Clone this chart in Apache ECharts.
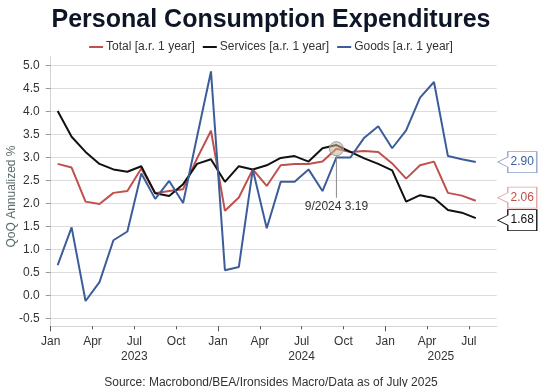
<!DOCTYPE html>
<html><head><meta charset="utf-8">
<script src="https://cdn.jsdelivr.net/npm/echarts@6/dist/echarts.min.js"></script>
<style>html,body{margin:0;padding:0;background:#fff}#c{width:542px;height:387px}</style>
</head><body><div id="c"></div>
<script>
// ---- data ----
const months = ['1/2023','2/2023','3/2023','4/2023','5/2023','6/2023','7/2023','8/2023','9/2023','10/2023','11/2023','12/2023',
                '1/2024','2/2024','3/2024','4/2024','5/2024','6/2024','7/2024','8/2024','9/2024','10/2024','11/2024','12/2024',
                '1/2025','2/2025','3/2025','4/2025','5/2025','6/2025','7/2025'];
const total    = [2.86,2.78,2.04,1.99,2.23,2.27,2.76,2.22,2.27,2.31,2.98,3.58,
                  1.84,2.13,2.74,2.38,2.83,2.86,2.86,2.91,3.19,3.12,3.14,3.12,
                  2.87,2.54,2.83,2.91,2.23,2.17,2.06];
const services = [4.01,3.45,3.12,2.86,2.74,2.69,2.81,2.22,2.16,2.42,2.86,2.96,
                  2.47,2.81,2.74,2.83,2.99,3.03,2.91,3.20,3.27,3.12,2.98,2.86,
                  2.72,2.04,2.18,2.12,1.86,1.80,1.68];
const goods    = [0.66,1.48,-0.12,0.29,1.20,1.39,2.65,2.10,2.49,2.01,3.45,4.87,
                  0.55,0.62,2.74,1.46,2.47,2.47,2.74,2.27,3.00,3.00,3.43,3.68,
                  3.20,3.59,4.30,4.64,3.03,2.96,2.90];
const seriesNames = ['Total [a.r. 1 year]','Services [a.r. 1 year]','Goods [a.r. 1 year]'];
const yTicks = [-0.5,0,0.5,1,1.5,2,2.5,3,3.5,4,4.5,5];
const xTickMonths = [0,3,6,9,12,15,18,21,24,27,30];
const xTickLabels = ['Jan','Apr','Jul','Oct','Jan','Apr','Jul','Oct','Jan','Apr','Jul'];
const yearTickMonths = [0,12,24];
const yearLabelMonths = [6,18,28];
const yearLabels = ['2023','2024','2025'];
const annotIndex = 20;
const titleText = 'Personal Consumption Expenditures';
const sourceText = 'Source: Macrobond/BEA/Ironsides Macro/Data as of July 2025';

// ---- chart ----
const FONT = "'Liberation Sans', Arial, sans-serif";
const colors = ['#c0504d', '#111111', '#3c5d9a'];
const boxBorders = ['#e2a3a1', '#111111', '#8fa3c8'];
const labelDy = [-3, 2, 0];
const toXY = arr => arr.map((v, i) => [i + 0.5, v]);
const last = months.length - 1;
const calloutPath = 'path://M0,10.5 L10,5.5 L10,0 L39,0 L39,21 L10,21 L10,15.5 Z';

function callout(arr, idx) {
  return {
    coord: [last + 0.5, arr[last]],
    symbol: calloutPath,
    symbolSize: [39, 21],
    symbolKeepAspect: false,
    symbolOffset: [41.5, labelDy[idx]],
    itemStyle: { color: '#fff', borderColor: boxBorders[idx], borderWidth: 1 },
    label: {
      show: true, position: 'inside', offset: [5, 0],
      formatter: arr[last].toFixed(2),
      color: colors[idx], fontSize: 12, fontFamily: FONT
    }
  };
}

const dataSets = [total, services, goods];
const series = dataSets.map((arr, idx) => {
  const mp = [callout(arr, idx)];
  if (idx === 0) {
    mp.push({
      coord: [annotIndex + 0.5, arr[annotIndex]],
      symbol: 'rect', symbolSize: [1, 42], symbolOffset: [0, 28],
      itemStyle: { color: '#8a8a8a' },
      label: { show: true, position: 'bottom', distance: 3,
               formatter: months[annotIndex] + ' ' + arr[annotIndex].toFixed(2),
               color: '#333', fontSize: 12, fontFamily: FONT }
    });
    mp.push({
      coord: [annotIndex + 0.5, arr[annotIndex]],
      symbol: 'circle', symbolSize: 14,
      itemStyle: { color: 'rgba(200,180,150,0.55)', borderColor: '#9a9a9a', borderWidth: 1 },
      label: { show: false }
    });
  }
  return {
    name: seriesNames[idx], type: 'line', data: toXY(arr),
    xAxisIndex: 0, yAxisIndex: 0,
    showSymbol: false, symbol: 'none',
    lineStyle: { color: colors[idx], width: 2 },
    itemStyle: { color: colors[idx] },
    markPoint: { data: mp, animation: false, silent: true }
  };
});

const chart = echarts.init(document.getElementById('c'), null, { renderer: 'canvas' });
chart.setOption({
  animation: false,
  backgroundColor: '#fff',
  textStyle: { fontFamily: FONT },
  title: [
    { text: titleText, left: 'center', top: 3,
      textStyle: { fontFamily: FONT, fontSize: 25, fontWeight: 'bold', color: '#0d1526' } },
    { text: sourceText, left: 'center', top: 372,
      textStyle: { fontFamily: FONT, fontSize: 12, fontWeight: 'normal', color: '#333' } }
  ],
  legend: {
    data: seriesNames, top: 36, left: 'center', icon: 'rect',
    itemWidth: 14, itemHeight: 2, itemGap: 8,
    textStyle: { fontFamily: FONT, fontSize: 12, color: '#333', padding: [0, 0, 0, -2] }
  },
  grid: { left: 50.7, right: 45.3, top: 56.7, bottom: 60.7, containLabel: false, outerBoundsMode: 'none' },
  xAxis: [
    { type: 'value', min: 0, max: 32, position: 'bottom',
      axisLine: { show: true, onZero: false, lineStyle: { color: '#d4d4d4' } },
      axisTick: { show: true, customValues: xTickMonths, length: 3, lineStyle: { color: '#555' } },
      axisLabel: { customValues: xTickMonths, margin: 9, color: '#333', fontSize: 12, fontFamily: FONT,
                   formatter: v => xTickLabels[xTickMonths.indexOf(v)] },
      splitLine: { show: false } },
    { type: 'value', min: 0, max: 32, position: 'bottom',
      axisLine: { show: false, onZero: false },
      axisTick: { show: true, customValues: yearTickMonths, length: 5, lineStyle: { color: '#555' } },
      axisLabel: { customValues: yearLabelMonths, margin: 24, color: '#333', fontSize: 12, fontFamily: FONT,
                   formatter: v => yearLabels[yearLabelMonths.indexOf(v)] },
      splitLine: { show: false } }
  ],
  yAxis: {
    type: 'value', min: -0.67, max: 5.19,
    name: 'QoQ Annualized %', nameLocation: 'middle', nameGap: 33, nameMoveOverlap: false,
    nameTextStyle: { color: '#5b6b6b', fontSize: 12, fontFamily: FONT, padding: [0, 10, 0, 0] },
    axisLine: { show: true, onZero: false, lineStyle: { color: '#d4d4d4' } },
    axisTick: { show: true, customValues: yTicks, length: 5, lineStyle: { color: '#999' } },
    axisLabel: { customValues: yTicks, margin: 11, color: '#333', fontSize: 12, fontFamily: FONT,
                 formatter: v => v.toFixed(1) },
    splitLine: { show: true, lineStyle: { color: '#dcdcdc', width: 1 } }
  },
  series: series
});
</script>
</body></html>
